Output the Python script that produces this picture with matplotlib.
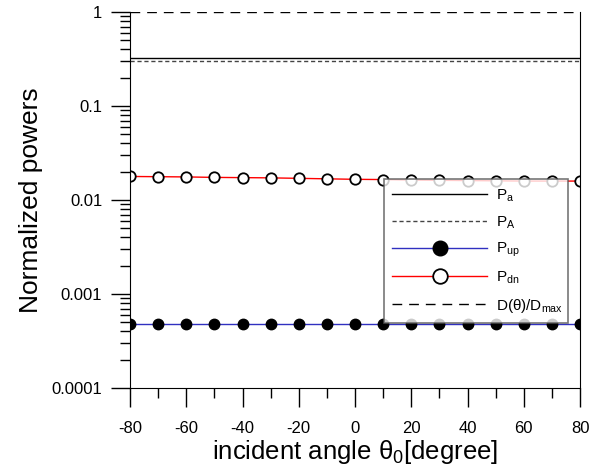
import matplotlib
matplotlib.use('Agg')
import matplotlib.pyplot as plt

plt.rcParams['font.family'] = ['Liberation Sans', 'DejaVu Sans']
plt.rcParams['mathtext.fontset'] = 'custom'
plt.rcParams['mathtext.rm'] = 'Liberation Sans'
plt.rcParams['mathtext.it'] = 'Liberation Sans'
plt.rcParams['axes.unicode_minus'] = False

# Einfallswinkel und normierte Leistungen
winkel = [-80, -70, -60, -50, -40, -30, -20, -10, 0, 10, 20, 30, 40, 50, 60, 70, 80]
Pa = [0.325] * 17
PA = [0.30] * 17
Pup = [0.00048] * 17
Pdn = [0.0178, 0.0177, 0.0176, 0.0174, 0.0173, 0.0172, 0.0170, 0.0168, 0.0166,
       0.0165, 0.0163, 0.0162, 0.0161, 0.0160, 0.0159, 0.0159, 0.0159]
D = [1.0] * 17

fig = plt.figure(figsize=(6, 4.69), dpi=100)
ax = fig.add_axes([0.2167, 0.1727, 0.75, 0.8017])

ax.plot(winkel, Pa, '-', color='black', lw=1, label=r'P$_\mathregular{a}$')
ax.plot(winkel, PA, color='#444444', lw=1, dashes=(3, 2), label=r'P$_\mathregular{A}$')
ax.plot(winkel, Pup, '-', color='#3030c0', lw=1, marker='o', ms=7.5,
        mfc='black', mec='black', label=r'P$_\mathregular{up}$')
ax.plot(winkel, Pdn, '-', color='red', lw=1, marker='o', ms=7.5, mfc='white',
        mec='black', mew=1.3, label=r'P$_\mathregular{dn}$')
ax.plot(winkel, D, color='black', lw=1, dashes=(7, 5),
        label=r'D($\mathregular{\theta}$)/D$_\mathregular{max}$')

ax.set_yscale('log')
ax.set_ylim(1e-4, 1)
ax.set_xlim(-80, 80)
ax.set_xticks(range(-80, 81, 20))
ax.set_xticks(range(-70, 80, 20), minor=True)
ax.set_yticks([1e-4, 1e-3, 1e-2, 1e-1, 1])
ax.set_yticklabels(['0.0001', '0.001', '0.01', '0.1', '1'])
ax.spines['top'].set_visible(False)
ax.tick_params(which='major', direction='out', length=14, width=1, labelsize=12)
ax.tick_params(which='minor', direction='out', length=7.5, width=1)
ax.tick_params(axis='x', which='major', pad=10)
ax.tick_params(axis='y', which='major', pad=6)

ax.set_xlabel(r'incident angle $\mathregular{\theta_0}$[degree]', fontsize=18.5, labelpad=1)
ax.set_ylabel('Normalized powers', fontsize=19, labelpad=6)

leg = ax.legend(loc='lower left', bbox_to_anchor=(0.564, 0.173, 0.409, 0.372),
                mode='expand', fontsize=11, handlelength=6.2, labelspacing=0.68,
                handletextpad=0.6, markerscale=1.4,
                frameon=True, fancybox=False, borderaxespad=0, borderpad=0.55)
leg.get_frame().set_edgecolor('#555555')
leg.get_frame().set_linewidth(1.2)

plt.savefig('out.png', dpi=100)
